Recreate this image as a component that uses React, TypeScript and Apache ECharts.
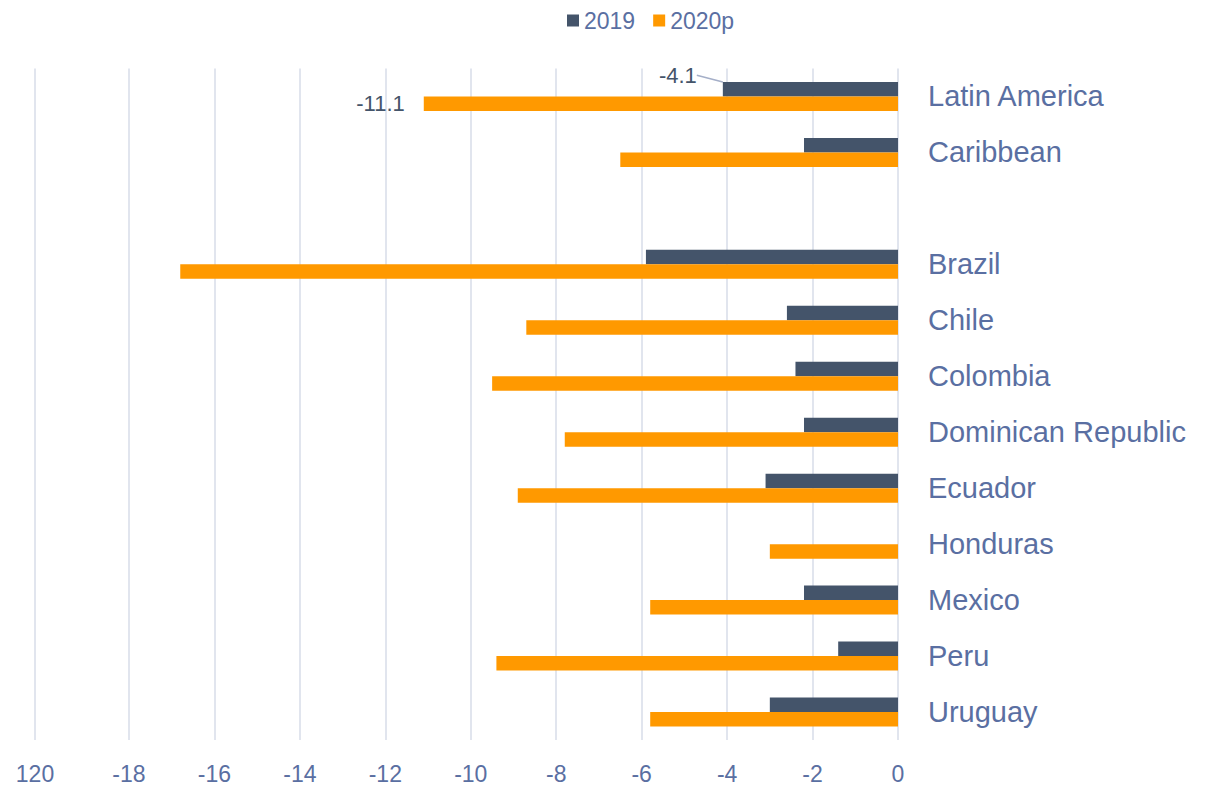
import React, { useEffect, useRef } from "react";
import * as echarts from "echarts";

const categories = [
  "Latin America",
  "Caribbean",
  "",
  "Brazil",
  "Chile",
  "Colombia",
  "Dominican Republic",
  "Ecuador",
  "Honduras",
  "Mexico",
  "Peru",
  "Uruguay",
];
const values2019 = [-4.1, -2.2, null, -5.9, -2.6, -2.4, -2.2, -3.1, null, -2.2, -1.4, -3.0];
const values2020p = [-11.1, -6.5, null, -16.8, -8.7, -9.5, -7.8, -8.9, -3.0, -5.8, -9.4, -5.8];
const seriesNames = ["2019", "2020p"];
const xTickValues = [-20.2, -18, -16, -14, -12, -10, -8, -6, -4, -2, 0];
const xTickLabels = ["120", "-18", "-16", "-14", "-12", "-10", "-8", "-6", "-4", "-2", "0"];
const labelledIndex = 0;

const FONT = "'Liberation Sans', Arial, sans-serif";
const AXIS_COLOR = "#5a6fa2";
const LABEL_COLOR = "#44546a";

export default function App() {
  const ref = useRef<HTMLDivElement>(null);
  useEffect(() => {
    if (!ref.current) return;
    const chart = echarts.init(ref.current, undefined, { renderer: "svg" });
    const withLabel = (arr: (number | null)[]) =>
      arr.map((v, i) => (i === labelledIndex ? { value: v, label: { show: true } } : v));
    chart.setOption({
      animation: false,
      textStyle: { fontFamily: FONT },
      legend: {
        data: seriesNames,
        left: 562,
        top: 4,
        itemWidth: 12,
        itemHeight: 12,
        itemGap: 18,
        icon: "rect",
        textStyle: { fontSize: 23, color: AXIS_COLOR, fontFamily: FONT },
      },
      grid: { left: 35, right: 315, top: 68.5, bottom: 44.5, containLabel: false },
      xAxis: {
        type: "value",
        min: xTickValues[0],
        max: xTickValues[xTickValues.length - 1],
        axisLine: { show: false },
        axisTick: { show: false, customValues: xTickValues },
        splitLine: { show: true, lineStyle: { color: "#d7dce9", width: 1.5 } },
        axisLabel: {
          customValues: xTickValues,
          margin: 22,
          fontSize: 23,
          color: AXIS_COLOR,
          fontFamily: FONT,
          formatter: (v: number) => {
            const idx = xTickValues.findIndex((t) => Math.abs(t - v) < 1e-6);
            return idx >= 0 ? xTickLabels[idx] : "";
          },
        },
      },
      yAxis: {
        type: "category",
        data: categories,
        inverse: true,
        position: "right",
        axisLine: { show: false },
        axisTick: { show: false },
        axisLabel: { margin: 30, fontSize: 29, color: AXIS_COLOR, fontFamily: FONT },
      },
      series: [
        {
          name: seriesNames[0],
          type: "bar",
          data: withLabel(values2019),
          barWidth: 14.5,
          barGap: "0%",
          itemStyle: { color: "#44546a" },
          label: {
            show: false,
            position: "left",
            distance: 5,
            fontSize: 22,
            color: LABEL_COLOR,
            fontFamily: FONT,
          },
          labelLine: { show: true, lineStyle: { color: "#a5afc8", width: 1.5 } },
          labelLayout: { dx: -21, dy: -14 },
        },
        {
          name: seriesNames[1],
          type: "bar",
          data: withLabel(values2020p),
          barWidth: 14.5,
          barGap: "0%",
          itemStyle: { color: "#ff9900" },
          label: {
            show: false,
            position: "left",
            distance: 19,
            fontSize: 22,
            color: LABEL_COLOR,
            fontFamily: FONT,
          },
        },
      ],
    });
    return () => chart.dispose();
  }, []);
  return (
    <div
      ref={ref}
      style={{ position: "fixed", left: 0, top: 0, width: 1213, height: 785, background: "#fff" }}
    />
  );
}
